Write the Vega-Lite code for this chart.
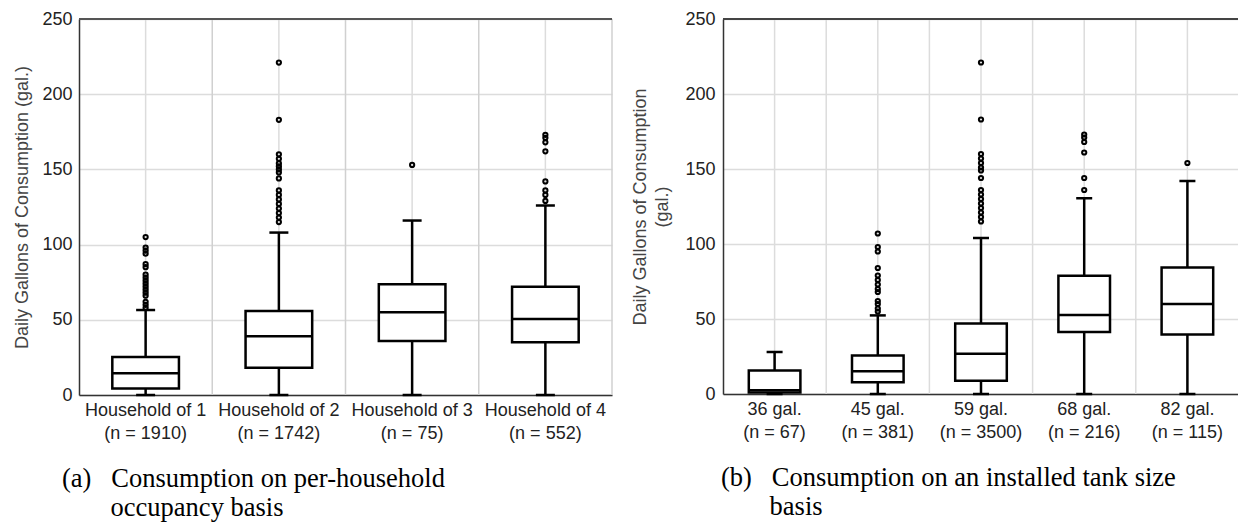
{
  "$schema": "https://vega.github.io/schema/vega-lite/v6.json",
  "padding": {"left": 13, "top": 10, "right": 0, "bottom": 0},
  "spacing": 18,
  "background": "white",
  "config": {
    "view": {"stroke": null},
    "font": "Liberation Sans",
    "axis": {"labelFont": "Liberation Sans", "titleFont": "Liberation Sans", "labelColor": "#222", "titleColor": "#444", "titleFontWeight": "normal"}
  },
  "datasets": {
    "boxA": [
      {"g": "Household of 1|(n = 1910)", "lower": 0, "q1": 4.4, "median": 14.4, "q3": 25.3, "upper": 56.5},
      {"g": "Household of 2|(n = 1742)", "lower": 0, "q1": 18.2, "median": 39, "q3": 55.9, "upper": 108},
      {"g": "Household of 3|(n = 75)", "lower": 0, "q1": 35.9, "median": 55, "q3": 73.6, "upper": 116},
      {"g": "Household of 4|(n = 552)", "lower": 0, "q1": 35, "median": 50.5, "q3": 72, "upper": 126}
    ],
    "outA": [
      {"g": "Household of 1|(n = 1910)", "v": 105}, {"g": "Household of 1|(n = 1910)", "v": 98}, {"g": "Household of 1|(n = 1910)", "v": 96}, {"g": "Household of 1|(n = 1910)", "v": 94}, {"g": "Household of 1|(n = 1910)", "v": 87}, {"g": "Household of 1|(n = 1910)", "v": 85}, {"g": "Household of 1|(n = 1910)", "v": 80}, {"g": "Household of 1|(n = 1910)", "v": 78}, {"g": "Household of 1|(n = 1910)", "v": 76}, {"g": "Household of 1|(n = 1910)", "v": 74}, {"g": "Household of 1|(n = 1910)", "v": 72}, {"g": "Household of 1|(n = 1910)", "v": 70}, {"g": "Household of 1|(n = 1910)", "v": 68}, {"g": "Household of 1|(n = 1910)", "v": 66}, {"g": "Household of 1|(n = 1910)", "v": 62}, {"g": "Household of 1|(n = 1910)", "v": 60}, {"g": "Household of 1|(n = 1910)", "v": 58},
      {"g": "Household of 2|(n = 1742)", "v": 221}, {"g": "Household of 2|(n = 1742)", "v": 183}, {"g": "Household of 2|(n = 1742)", "v": 160}, {"g": "Household of 2|(n = 1742)", "v": 157}, {"g": "Household of 2|(n = 1742)", "v": 154}, {"g": "Household of 2|(n = 1742)", "v": 152}, {"g": "Household of 2|(n = 1742)", "v": 150}, {"g": "Household of 2|(n = 1742)", "v": 148}, {"g": "Household of 2|(n = 1742)", "v": 144}, {"g": "Household of 2|(n = 1742)", "v": 136}, {"g": "Household of 2|(n = 1742)", "v": 133}, {"g": "Household of 2|(n = 1742)", "v": 130}, {"g": "Household of 2|(n = 1742)", "v": 127}, {"g": "Household of 2|(n = 1742)", "v": 124}, {"g": "Household of 2|(n = 1742)", "v": 121}, {"g": "Household of 2|(n = 1742)", "v": 118}, {"g": "Household of 2|(n = 1742)", "v": 115},
      {"g": "Household of 3|(n = 75)", "v": 153},
      {"g": "Household of 4|(n = 552)", "v": 173}, {"g": "Household of 4|(n = 552)", "v": 171}, {"g": "Household of 4|(n = 552)", "v": 168}, {"g": "Household of 4|(n = 552)", "v": 162}, {"g": "Household of 4|(n = 552)", "v": 142}, {"g": "Household of 4|(n = 552)", "v": 136}, {"g": "Household of 4|(n = 552)", "v": 133}, {"g": "Household of 4|(n = 552)", "v": 129}
    ],
    "boxB": [
      {"g": "36 gal.|(n = 67)", "lower": 0, "q1": 1, "median": 2.5, "q3": 15.6, "upper": 28},
      {"g": "45 gal.|(n = 381)", "lower": 0, "q1": 7.8, "median": 15.2, "q3": 25.7, "upper": 52.4},
      {"g": "59 gal.|(n = 3500)", "lower": 0, "q1": 8.9, "median": 26.9, "q3": 47, "upper": 104},
      {"g": "68 gal.|(n = 216)", "lower": 0, "q1": 41.4, "median": 52.6, "q3": 78.8, "upper": 130.5},
      {"g": "82 gal.|(n = 115)", "lower": 0, "q1": 39.6, "median": 60, "q3": 84.4, "upper": 142}
    ],
    "outB": [
      {"g": "45 gal.|(n = 381)", "v": 107}, {"g": "45 gal.|(n = 381)", "v": 98}, {"g": "45 gal.|(n = 381)", "v": 95}, {"g": "45 gal.|(n = 381)", "v": 84}, {"g": "45 gal.|(n = 381)", "v": 79}, {"g": "45 gal.|(n = 381)", "v": 76}, {"g": "45 gal.|(n = 381)", "v": 73}, {"g": "45 gal.|(n = 381)", "v": 70}, {"g": "45 gal.|(n = 381)", "v": 68}, {"g": "45 gal.|(n = 381)", "v": 62}, {"g": "45 gal.|(n = 381)", "v": 60}, {"g": "45 gal.|(n = 381)", "v": 57}, {"g": "45 gal.|(n = 381)", "v": 55},
      {"g": "59 gal.|(n = 3500)", "v": 221}, {"g": "59 gal.|(n = 3500)", "v": 183}, {"g": "59 gal.|(n = 3500)", "v": 160}, {"g": "59 gal.|(n = 3500)", "v": 157}, {"g": "59 gal.|(n = 3500)", "v": 154}, {"g": "59 gal.|(n = 3500)", "v": 151}, {"g": "59 gal.|(n = 3500)", "v": 149}, {"g": "59 gal.|(n = 3500)", "v": 144}, {"g": "59 gal.|(n = 3500)", "v": 136}, {"g": "59 gal.|(n = 3500)", "v": 133}, {"g": "59 gal.|(n = 3500)", "v": 130}, {"g": "59 gal.|(n = 3500)", "v": 127}, {"g": "59 gal.|(n = 3500)", "v": 124}, {"g": "59 gal.|(n = 3500)", "v": 121}, {"g": "59 gal.|(n = 3500)", "v": 118}, {"g": "59 gal.|(n = 3500)", "v": 115},
      {"g": "68 gal.|(n = 216)", "v": 173}, {"g": "68 gal.|(n = 216)", "v": 171}, {"g": "68 gal.|(n = 216)", "v": 168}, {"g": "68 gal.|(n = 216)", "v": 161}, {"g": "68 gal.|(n = 216)", "v": 144}, {"g": "68 gal.|(n = 216)", "v": 136},
      {"g": "82 gal.|(n = 115)", "v": 154}
    ]
  },
  "hconcat": [
    {
      "width": 533,
      "height": 376,
      "title": {
        "text": ["(a)\u00a0\u00a0\u00a0Consumption on per-household", "\u200b\u00a0\u00a0\u00a0\u00a0\u00a0\u00a0\u00a0\u200aoccupancy basis"],
        "orient": "bottom", "anchor": "start", "frame": "group", "dx": -17, "offset": 24,
        "font": "Liberation Serif", "fontSize": 26.5, "fontWeight": "normal", "lineHeight": 29, "color": "#000"
      },
      "layer": [
        {
          "data": {"name": "boxA"},
          "mark": {"type": "rule", "color": "#dcdcdc", "strokeWidth": 1.5},
          "encoding": {
            "x": {"field": "g", "type": "nominal", "sort": null, "bandPosition": 0.5,
                  "scale": {"paddingInner": 0, "paddingOuter": 0},
                  "axis": {"title": null, "labelAngle": 0, "labelExpr": "split(datum.label, '|')", "labelFontSize": 18, "labelLineHeight": 23, "labelPadding": 6, "ticks": false, "grid": false, "domainColor": "#333", "domainWidth": 1.5}}
          }
        },
        {
          "data": {"name": "boxA"},
          "mark": {"type": "rule", "color": "#d0d0d0", "strokeWidth": 1.5},
          "encoding": {"x": {"field": "g", "type": "nominal", "sort": null, "bandPosition": 1}}
        },
        {
          "data": {"name": "boxA"},
          "mark": {"type": "rule", "color": "#555", "strokeWidth": 2},
          "encoding": {"y": {"datum": 250, "type": "quantitative"}}
        },
        {
          "data": {"name": "boxA"},
          "mark": {"type": "rule", "color": "black", "strokeWidth": 2.5},
          "encoding": {
            "x": {"field": "g", "type": "nominal", "sort": null},
            "y": {"field": "lower", "type": "quantitative",
                  "scale": {"domain": [0, 250], "nice": false},
                  "axis": {"values": [0, 50, 100, 150, 200, 250], "title": "Daily Gallons of Consumption (gal.)", "titleFontSize": 18, "titlePadding": 10, "labelFontSize": 18, "labelPadding": 7, "ticks": false, "grid": true, "gridColor": "#dcdcdc", "gridWidth": 1.5, "domainColor": "#333", "domainWidth": 1.5}},
            "y2": {"field": "upper"}
          }
        },
        {
          "data": {"name": "boxA"},
          "mark": {"type": "bar", "fill": "white", "stroke": "black", "strokeWidth": 2.5, "width": {"band": 0.5}},
          "encoding": {
            "x": {"field": "g", "type": "nominal", "sort": null},
            "y": {"field": "q1", "type": "quantitative"},
            "y2": {"field": "q3"}
          }
        },
        {
          "data": {"name": "boxA"},
          "mark": {"type": "tick", "color": "black", "opacity": 1, "thickness": 2.5, "size": 67},
          "encoding": {"x": {"field": "g", "type": "nominal", "sort": null}, "y": {"field": "median", "type": "quantitative"}}
        },
        {
          "data": {"name": "boxA"},
          "mark": {"type": "tick", "color": "black", "opacity": 1, "thickness": 2.5, "size": 19},
          "encoding": {"x": {"field": "g", "type": "nominal", "sort": null}, "y": {"field": "upper", "type": "quantitative"}}
        },
        {
          "data": {"name": "boxA"},
          "mark": {"type": "tick", "color": "black", "opacity": 1, "thickness": 2.5, "size": 19},
          "encoding": {"x": {"field": "g", "type": "nominal", "sort": null}, "y": {"field": "lower", "type": "quantitative"}}
        },
        {
          "data": {"name": "outA"},
          "mark": {"type": "point", "shape": "circle", "filled": false, "stroke": "black", "strokeWidth": 2, "size": 18, "opacity": 1},
          "encoding": {"x": {"field": "g", "type": "nominal", "sort": null}, "y": {"field": "v", "type": "quantitative"}}
        }
      ]
    },
    {
      "width": 516,
      "height": 375,
      "title": {
        "text": ["(b)\u00a0\u00a0\u00a0Consumption on an installed tank size", "\u200b\u00a0\u00a0\u00a0\u00a0\u00a0\u00a0\u00a0\u200abasis"],
        "orient": "bottom", "anchor": "start", "frame": "group", "dx": -2, "offset": 24,
        "font": "Liberation Serif", "fontSize": 26.5, "fontWeight": "normal", "lineHeight": 29, "color": "#000"
      },
      "layer": [
        {
          "data": {"name": "boxB"},
          "mark": {"type": "rule", "color": "#dcdcdc", "strokeWidth": 1.5},
          "encoding": {
            "x": {"field": "g", "type": "nominal", "sort": null, "bandPosition": 0.5,
                  "scale": {"paddingInner": 0, "paddingOuter": 0},
                  "axis": {"title": null, "labelAngle": 0, "labelExpr": "split(datum.label, '|')", "labelFontSize": 18, "labelLineHeight": 23, "labelPadding": 6, "ticks": false, "grid": false, "domainColor": "#333", "domainWidth": 1.5}}
          }
        },
        {
          "data": {"name": "boxB"},
          "mark": {"type": "rule", "color": "#dcdcdc", "strokeWidth": 1.5},
          "encoding": {"x": {"field": "g", "type": "nominal", "sort": null, "bandPosition": 1}}
        },
        {
          "data": {"name": "boxB"},
          "mark": {"type": "rule", "color": "#444", "strokeWidth": 2},
          "encoding": {"y": {"datum": 250, "type": "quantitative"}}
        },
        {
          "data": {"name": "boxB"},
          "mark": {"type": "rule", "color": "black", "strokeWidth": 2.5},
          "encoding": {
            "x": {"field": "g", "type": "nominal", "sort": null},
            "y": {"field": "lower", "type": "quantitative",
                  "scale": {"domain": [0, 250], "nice": false},
                  "axis": {"values": [0, 50, 100, 150, 200, 250], "title": ["Daily Gallons of Consumption", "(gal.)"], "titleFontSize": 18, "titleLineHeight": 22, "titlePadding": 13, "labelFontSize": 18, "labelPadding": 8, "ticks": false, "grid": true, "gridColor": "#dcdcdc", "gridWidth": 1.5, "domainColor": "#333", "domainWidth": 1.5}},
            "y2": {"field": "upper"}
          }
        },
        {
          "data": {"name": "boxB"},
          "mark": {"type": "bar", "fill": "white", "stroke": "black", "strokeWidth": 2.5, "width": {"band": 0.5}},
          "encoding": {
            "x": {"field": "g", "type": "nominal", "sort": null},
            "y": {"field": "q1", "type": "quantitative"},
            "y2": {"field": "q3"}
          }
        },
        {
          "data": {"name": "boxB"},
          "mark": {"type": "tick", "color": "black", "opacity": 1, "thickness": 2.5, "size": 52},
          "encoding": {"x": {"field": "g", "type": "nominal", "sort": null}, "y": {"field": "median", "type": "quantitative"}}
        },
        {
          "data": {"name": "boxB"},
          "mark": {"type": "tick", "color": "black", "opacity": 1, "thickness": 2.5, "size": 16},
          "encoding": {"x": {"field": "g", "type": "nominal", "sort": null}, "y": {"field": "upper", "type": "quantitative"}}
        },
        {
          "data": {"name": "boxB"},
          "mark": {"type": "tick", "color": "black", "opacity": 1, "thickness": 2.5, "size": 16},
          "encoding": {"x": {"field": "g", "type": "nominal", "sort": null}, "y": {"field": "lower", "type": "quantitative"}}
        },
        {
          "data": {"name": "outB"},
          "mark": {"type": "point", "shape": "circle", "filled": false, "stroke": "black", "strokeWidth": 2, "size": 18, "opacity": 1},
          "encoding": {"x": {"field": "g", "type": "nominal", "sort": null}, "y": {"field": "v", "type": "quantitative"}}
        }
      ]
    }
  ]
}
